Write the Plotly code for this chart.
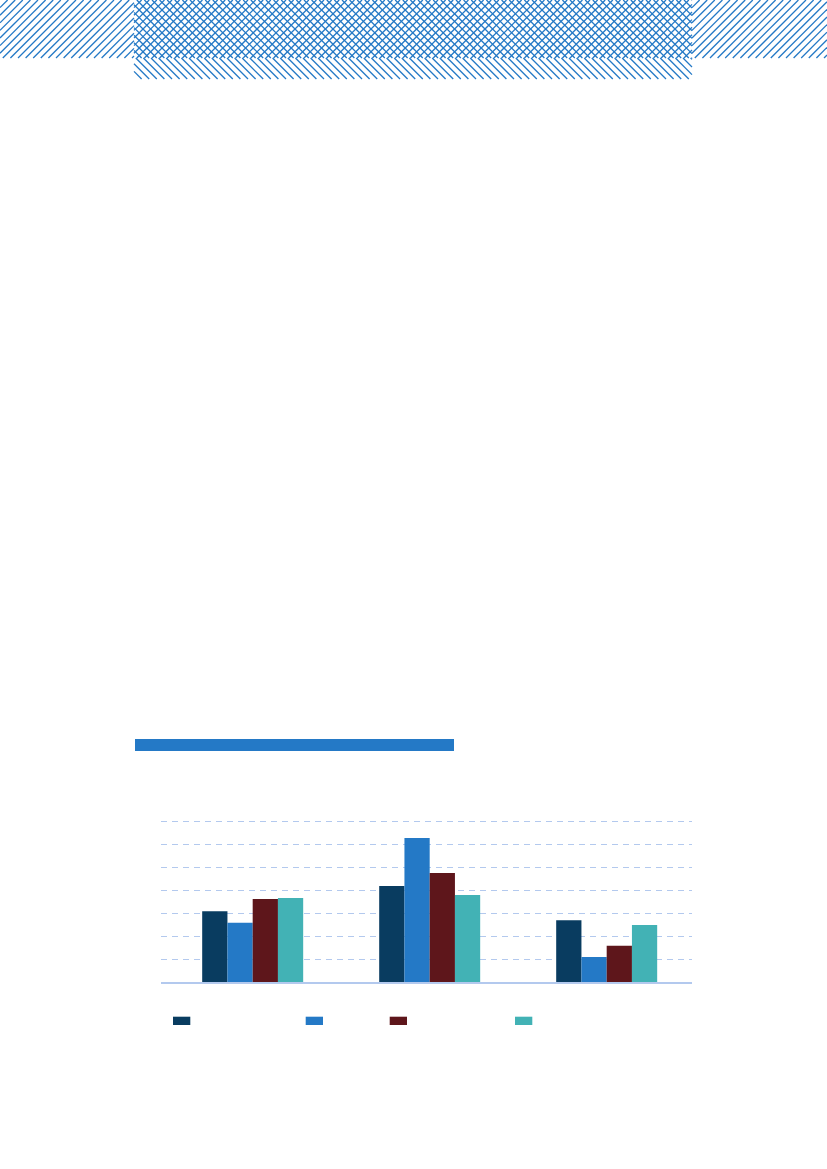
import plotly.graph_objects as go

# ---- data ----
categories = ["Group A", "Group B", "Group C"]
series_names = ["Series 1", "Series 2", "Series 3", "Series 4"]
series_1 = [3.09, 4.19, 2.70]
series_2 = [2.59, 6.27, 1.10]
series_3 = [3.62, 4.75, 1.59]
series_4 = [3.67, 3.80, 2.49]
y_ticks = [0, 1, 2, 3, 4, 5, 6, 7]

colors = ["#093c60", "#2479c6", "#5e161b", "#42b2b5"]
W, H = 827, 1169
BLUE = "#2479c6"

fig = go.Figure()
for name, vals, col in zip(series_names, [series_1, series_2, series_3, series_4], colors):
    fig.add_trace(go.Bar(x=categories, y=vals, name=name, marker_color=col,
                         marker_line_width=0, showlegend=False, hoverinfo="skip"))

# ---- decorative hatching (pixel coordinates on a full-page axis pair) ----
def hatch(x0, x1, y0, y1, step, direction, phase=0.0):
    xs, ys = [], []
    if direction == "/":  # x + y = c
        c = x0 + y0 + phase
        while c < x1 + y1:
            a = max(x0, c - y1)
            b = min(x1, c - y0)
            if b > a:
                xs += [a, b, None]
                ys += [c - a, c - b, None]
            c += step
    else:  # x - y = c
        c = x0 - y1 + phase
        while c < x1 - y0:
            a = max(x0, c + y0)
            b = min(x1, c + y1)
            if b > a:
                xs += [a, b, None]
                ys += [a - c, b - c, None]
            c += step
    return xs, ys

STEP = 7.6
segs = [
    hatch(0, 134, 0, 58, STEP, "/"),
    hatch(134, 692, 0, 58, STEP, "/"),
    hatch(134, 692, 0, 58, STEP, "\\"),
    hatch(134, 692, 58, 79, STEP, "\\"),
    hatch(692, 827, 0, 58, STEP, "/"),
]
for xs, ys in segs:
    fig.add_trace(go.Scatter(x=xs, y=ys, mode="lines", xaxis="x2", yaxis="y2",
                             line=dict(color=BLUE, width=1.3), showlegend=False,
                             hoverinfo="skip", cliponaxis=True))

def px(x):
    return x / W

def py(y):
    return 1 - y / H

shapes = [
    dict(type="rect", xref="paper", yref="paper", x0=px(135), x1=px(454),
         y0=py(751), y1=py(739), fillcolor=BLUE, line_width=0, layer="above"),
]
legend_x = [173, 305.7, 389.7, 515]
for lx, col in zip(legend_x, colors):
    shapes.append(dict(type="rect", xref="paper", yref="paper", x0=px(lx), x1=px(lx + 17.3),
                       y0=py(1025), y1=py(1016.7), fillcolor=col, line_width=0))

y_top = 7.2
base_px = 982.3
unit_px = 23.0
fig.update_layout(
    width=W, height=H,
    margin=dict(l=0, r=0, t=0, b=0),
    paper_bgcolor="white", plot_bgcolor="rgba(0,0,0,0)",
    barmode="group", bargap=0.4294, bargroupgap=0,
    showlegend=False,
    shapes=shapes,
    xaxis=dict(domain=[px(161), px(692)], range=[-0.518, 2.482], showticklabels=False,
               showgrid=False, showline=True, linecolor="#b3c9ee", linewidth=1.5,
               ticks="", zeroline=False, anchor="y"),
    yaxis=dict(domain=[py(base_px), py(base_px - y_top * unit_px)], range=[0, y_top],
               tickvals=y_ticks, showticklabels=False, showgrid=True,
               gridcolor="#b3c9ee", gridwidth=1, griddash="6px,5px", zeroline=False,
               showline=False, anchor="x"),
    xaxis2=dict(domain=[0, 1], range=[0, W], visible=False, anchor="y2", fixedrange=True),
    yaxis2=dict(domain=[0, 1], range=[H, 0], visible=False, anchor="x2", fixedrange=True),
)

fig.write_html("out.html", config={"displayModeBar": False},
               post_script="document.body.style.margin='0';document.body.style.overflow='hidden';")
